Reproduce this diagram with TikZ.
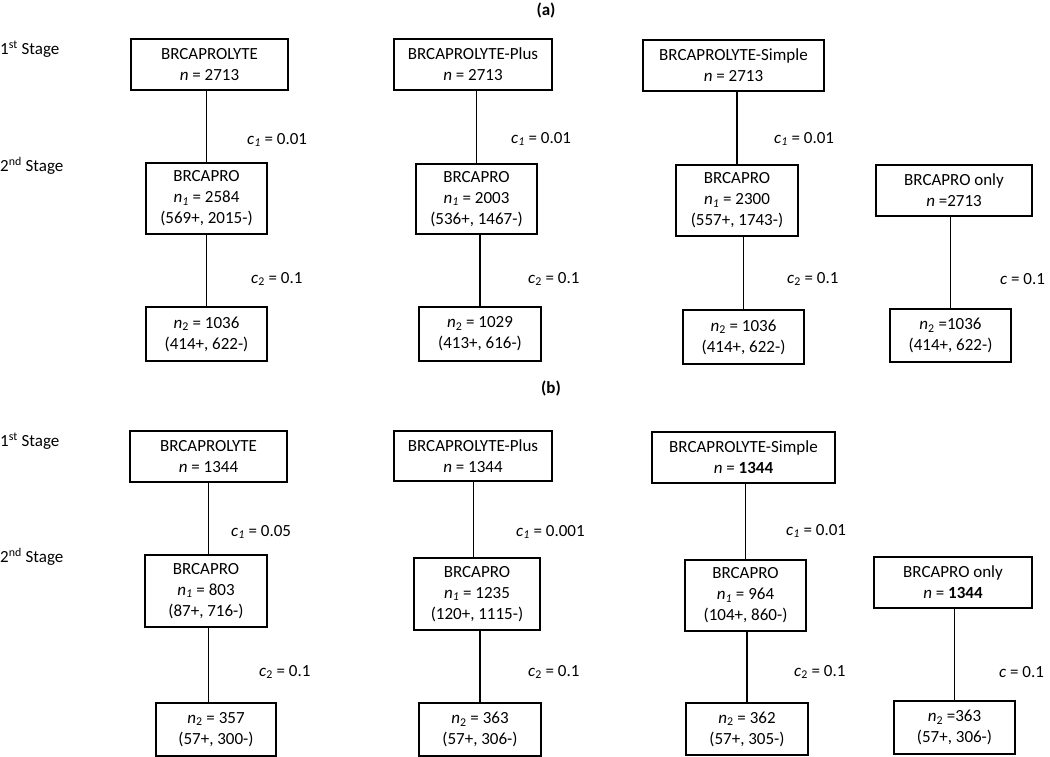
\documentclass[tikz,border=0pt]{standalone}
\usepackage{fontspec}
\setmainfont{Carlito}
\usepackage{tikz}
\usetikzlibrary{positioning}

\tikzset{
  stagebox/.style={draw,line width=1.3pt,inner sep=0pt,align=center,
    font=\fontsize{17}{21}\selectfont},
  cutlabel/.style={anchor=west,inner sep=0pt,font=\fontsize{17}{20}\selectfont},
  link/.style={line width=1.3pt}
}

\begin{document}
\begin{tikzpicture}[x=1pt,y=-1pt]
	\useasboundingbox (0,0) rectangle (1050,757);

	%% panel (a)
	\node[font=\bfseries\fontsize{17}{20}\selectfont,inner sep=0pt] at (546,10) (heada) {(a)};
	\node[cutlabel] at (0,49) (firsta) {1\textsuperscript{st} Stage};
	\node[cutlabel] at (0,166) (seconda) {2\textsuperscript{nd} Stage};

	\node[stagebox,minimum width=157,minimum height=51] at (209.5,64.5) (la1) {BRCAPROLYTE\\\textit{n} = 2713};
	\node[stagebox,minimum width=121,minimum height=71] at (206.5,198.5) (la2) {BRCAPRO\\\textit{n\textsubscript{1}} = 2584\\(569+, 2015-)};
	\node[stagebox,minimum width=121,minimum height=54] at (206.5,334) (la3) {\textit{n}\textsubscript{2} = 1036\\(414+, 622-)};

	\node[stagebox,minimum width=158,minimum height=51] at (473,64.5) (lb1) {BRCAPROLYTE-Plus\\\textit{n} = 2713};
	\node[stagebox,minimum width=121,minimum height=70] at (476.5,199) (lb2) {BRCAPRO\\\textit{n\textsubscript{1}} = 2003\\(536+, 1467-)};
	\node[stagebox,minimum width=122,minimum height=54] at (480,334) (lb3) {\textit{n}\textsubscript{2} = 1029\\(413+, 616-)};

	\node[stagebox,minimum width=181,minimum height=51] at (733.5,65.5) (lc1) {BRCAPROLYTE-Simple\\\textit{n} = 2713};
	\node[stagebox,minimum width=122,minimum height=71] at (737,200.5) (lc2) {BRCAPRO\\\textit{n\textsubscript{1}} = 2300\\(557+, 1743-)};
	\node[stagebox,minimum width=121,minimum height=54] at (743.5,337) (lc3) {\textit{n}\textsubscript{2} = 1036\\(414+, 622-)};

	\node[stagebox,minimum width=156,minimum height=51] at (954,190.5) (ld1) {BRCAPRO only\\\textit{n} =2713};
	\node[stagebox,minimum width=121,minimum height=53] at (950.5,335.5) (ld2) {\textit{n}\textsubscript{2} =1036\\(414+, 622-)};

	\draw[link] (la2.north) -- (la2.north |- la1.south);
	\draw[link] (la3.north) -- (la3.north |- la2.south);
	\draw[link] (lb2.north) -- (lb2.north |- lb1.south);
	\draw[link] (lb3.north) -- (lb3.north |- lb2.south);
	\draw[link] (lc2.north) -- (lc2.north |- lc1.south);
	\draw[link] (lc3.north) -- (lc3.north |- lc2.south);
	\draw[link] (ld2.north) -- (ld2.north |- ld1.south);

	\node[cutlabel] at (247,140) (ca1) {\textit{c\textsubscript{1}} = 0.01};
	\node[cutlabel] at (511,139) (cb1) {\textit{c\textsubscript{1}} = 0.01};
	\node[cutlabel] at (774,139) (cc1) {\textit{c\textsubscript{1}} = 0.01};
	\node[cutlabel] at (251,279) (ca2) {\textit{c}\textsubscript{2} = 0.1};
	\node[cutlabel] at (528,279) (cb2) {\textit{c}\textsubscript{2} = 0.1};
	\node[cutlabel] at (787,279) (cc2) {\textit{c}\textsubscript{2} = 0.1};
	\node[cutlabel] at (1000,279) (cd) {\textit{c} = 0.1};

	%% panel (b)
	\node[font=\bfseries\fontsize{17}{20}\selectfont,inner sep=0pt] at (551,388) (headb) {(b)};
	\node[cutlabel] at (0,441) (firstb) {1\textsuperscript{st} Stage};
	\node[cutlabel] at (0,557) (secondb) {2\textsuperscript{nd} Stage};

	\node[stagebox,minimum width=157,minimum height=51] at (208.5,456.5) (ma1) {BRCAPROLYTE\\\textit{n} = 1344};
	\node[stagebox,minimum width=122,minimum height=72] at (206,591) (ma2) {BRCAPRO\\\textit{n\textsubscript{1}} = 803\\(87+, 716-)};
	\node[stagebox,minimum width=120,minimum height=53] at (216,729.5) (ma3) {\textit{n}\textsubscript{2} = 357\\(57+, 300-)};

	\node[stagebox,minimum width=158,minimum height=50] at (473,456) (mb1) {BRCAPROLYTE-Plus\\\textit{n} = 1344};
	\node[stagebox,minimum width=126,minimum height=72] at (477,594) (mb2) {BRCAPRO\\\textit{n\textsubscript{1}} = 1235\\(120+, 1115-)};
	\node[stagebox,minimum width=122,minimum height=53] at (480,729.5) (mb3) {\textit{n}\textsubscript{2} = 363\\(57+, 306-)};

	\node[stagebox,minimum width=183,minimum height=51] at (743.5,457.5) (mc1) {BRCAPROLYTE-Simple\\\textit{n} = \textbf{1344}};
	\node[stagebox,minimum width=121,minimum height=71] at (745.5,595.5) (mc2) {BRCAPRO\\\textit{n\textsubscript{1}} = 964\\(104+, 860-)};
	\node[stagebox,minimum width=122,minimum height=52] at (747,729) (mc3) {\textit{n}\textsubscript{2} = 362\\(57+, 305-)};

	\node[stagebox,minimum width=158,minimum height=51] at (953,582.5) (md1) {BRCAPRO only\\\textit{n} = \textbf{1344}};
	\node[stagebox,minimum width=121,minimum height=53] at (954.5,727.5) (md2) {\textit{n}\textsubscript{2} =363\\(57+, 306-)};

	\draw[link] (ma1.south) -- (ma1.south |- ma2.north);
	\draw[link] (ma1.south |- ma2.south) -- (ma1.south |- ma3.north);
	\draw[line width=.8pt] (mb1.south) -- (mb1.south |- mb2.north);
	\draw[link] (mb3.north) -- (mb3.north |- mb2.south);
	\draw[link] (mc2.north) -- (mc2.north |- mc1.south);
	\draw[link] (mc3.north) -- (mc3.north |- mc2.south);
	\draw[link] (md2.north) -- (md2.north |- md1.south);

	\node[cutlabel] at (231,532) (ma1c) {\textit{c\textsubscript{1}} = 0.05};
	\node[cutlabel] at (516,532) (mb1c) {\textit{c\textsubscript{1}} = 0.001};
	\node[cutlabel] at (786,531) (mc1c) {\textit{c\textsubscript{1}} = 0.01};
	\node[cutlabel] at (259,672) (ma2c) {\textit{c}\textsubscript{2} = 0.1};
	\node[cutlabel] at (528,672) (mb2c) {\textit{c}\textsubscript{2} = 0.1};
	\node[cutlabel] at (794,672) (mc2c) {\textit{c}\textsubscript{2} = 0.1};
	\node[cutlabel] at (999,672) (mdc) {\textit{c} = 0.1};
\end{tikzpicture}
\end{document}
